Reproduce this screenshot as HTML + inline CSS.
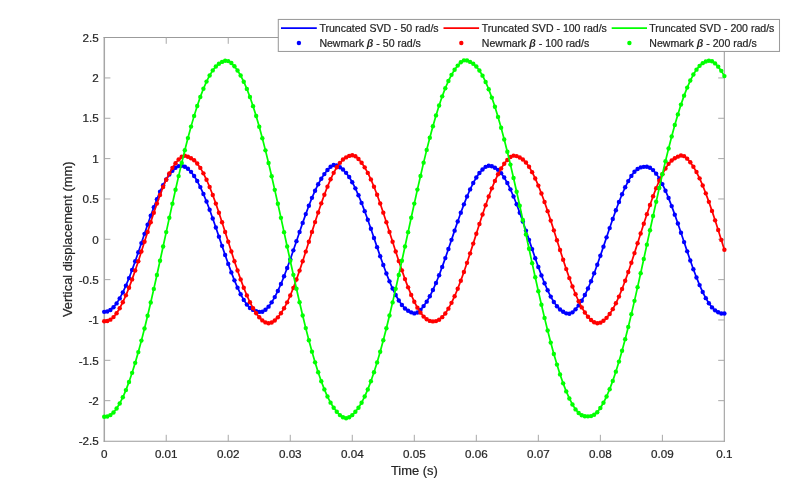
<!DOCTYPE html>
<html><head><meta charset="utf-8"><title>Vertical displacement</title>
<style>
html,body{margin:0;padding:0;background:#fff;}
body{width:800px;height:495px;overflow:hidden;}
svg{display:block;}
text{font-family:"Liberation Sans",sans-serif;fill:#262626;stroke:#262626;stroke-width:0.22px;}
.tk{font-size:11.67px;}
.lb{font-size:12.92px;}
.lg{font-size:10.55px;}
</style></head><body>
<svg width="800" height="495" viewBox="0 0 800 495">
<rect width="800" height="495" fill="#ffffff"/>

<g fill="none" stroke-linecap="butt">
<line x1="104.3" y1="37.1" x2="104.3" y2="441.8" stroke="#a6a6a6" stroke-width="1.5"/>
<line x1="103.60000000000001" y1="37.55" x2="724.8" y2="37.55" stroke="#9b9b9b" stroke-width="1.05"/>
<line x1="724.3" y1="37.1" x2="724.3" y2="441.8" stroke="#9b9b9b" stroke-width="1.05"/>
<line x1="103.60000000000001" y1="441.3" x2="724.8" y2="441.3" stroke="#9b9b9b" stroke-width="1.05"/>
</g>
<g stroke="#a8a8a8" stroke-width="1" fill="none">
<line x1="166.22" y1="441.3" x2="166.22" y2="434.8"/>
<line x1="166.22" y1="37.6" x2="166.22" y2="43.800000000000004"/>
<line x1="228.24" y1="441.3" x2="228.24" y2="434.8"/>
<line x1="228.24" y1="37.6" x2="228.24" y2="43.800000000000004"/>
<line x1="290.26" y1="441.3" x2="290.26" y2="434.8"/>
<line x1="290.26" y1="37.6" x2="290.26" y2="43.800000000000004"/>
<line x1="352.28" y1="441.3" x2="352.28" y2="434.8"/>
<line x1="352.28" y1="37.6" x2="352.28" y2="43.800000000000004"/>
<line x1="414.30" y1="441.3" x2="414.30" y2="434.8"/>
<line x1="414.30" y1="37.6" x2="414.30" y2="43.800000000000004"/>
<line x1="476.32" y1="441.3" x2="476.32" y2="434.8"/>
<line x1="476.32" y1="37.6" x2="476.32" y2="43.800000000000004"/>
<line x1="538.34" y1="441.3" x2="538.34" y2="434.8"/>
<line x1="538.34" y1="37.6" x2="538.34" y2="43.800000000000004"/>
<line x1="600.36" y1="441.3" x2="600.36" y2="434.8"/>
<line x1="600.36" y1="37.6" x2="600.36" y2="43.800000000000004"/>
<line x1="662.38" y1="441.3" x2="662.38" y2="434.8"/>
<line x1="662.38" y1="37.6" x2="662.38" y2="43.800000000000004"/>
<line x1="104.2" y1="400.66" x2="110.4" y2="400.66"/>
<line x1="724.4" y1="400.66" x2="718.1999999999999" y2="400.66"/>
<line x1="104.2" y1="360.32" x2="110.4" y2="360.32"/>
<line x1="724.4" y1="360.32" x2="718.1999999999999" y2="360.32"/>
<line x1="104.2" y1="319.98" x2="110.4" y2="319.98"/>
<line x1="724.4" y1="319.98" x2="718.1999999999999" y2="319.98"/>
<line x1="104.2" y1="279.64" x2="110.4" y2="279.64"/>
<line x1="724.4" y1="279.64" x2="718.1999999999999" y2="279.64"/>
<line x1="104.2" y1="239.30" x2="110.4" y2="239.30"/>
<line x1="724.4" y1="239.30" x2="718.1999999999999" y2="239.30"/>
<line x1="104.2" y1="198.96" x2="110.4" y2="198.96"/>
<line x1="724.4" y1="198.96" x2="718.1999999999999" y2="198.96"/>
<line x1="104.2" y1="158.62" x2="110.4" y2="158.62"/>
<line x1="724.4" y1="158.62" x2="718.1999999999999" y2="158.62"/>
<line x1="104.2" y1="118.28" x2="110.4" y2="118.28"/>
<line x1="724.4" y1="118.28" x2="718.1999999999999" y2="118.28"/>
<line x1="104.2" y1="77.94" x2="110.4" y2="77.94"/>
<line x1="724.4" y1="77.94" x2="718.1999999999999" y2="77.94"/>
</g>
<g class="tk" text-anchor="middle">
<text x="104.20" y="458.2">0</text>
<text x="166.22" y="458.2">0.01</text>
<text x="228.24" y="458.2">0.02</text>
<text x="290.26" y="458.2">0.03</text>
<text x="352.28" y="458.2">0.04</text>
<text x="414.30" y="458.2">0.05</text>
<text x="476.32" y="458.2">0.06</text>
<text x="538.34" y="458.2">0.07</text>
<text x="600.36" y="458.2">0.08</text>
<text x="662.38" y="458.2">0.09</text>
<text x="724.40" y="458.2">0.1</text>
</g>
<g class="tk" text-anchor="end">
<text x="98.8" y="445.20">-2.5</text>
<text x="98.8" y="404.86">-2</text>
<text x="98.8" y="364.52">-1.5</text>
<text x="98.8" y="324.18">-1</text>
<text x="98.8" y="283.84">-0.5</text>
<text x="98.8" y="243.50">0</text>
<text x="98.8" y="203.16">0.5</text>
<text x="98.8" y="162.82">1</text>
<text x="98.8" y="122.48">1.5</text>
<text x="98.8" y="82.14">2</text>
<text x="98.8" y="41.80">2.5</text>
</g>
<text class="lb" text-anchor="middle" x="414.30" y="475.4">Time (s)</text>
<text class="lb" text-anchor="middle" transform="translate(71.9,239.30) rotate(-90)">Vertical displacement (mm)</text>
<clipPath id="c"><rect x="101.2" y="34.6" width="626.20" height="409.40"/></clipPath>
<g clip-path="url(#c)">
<polyline points="104.20,311.83 107.30,311.48 110.40,309.97 113.50,307.32 116.60,303.39 119.70,298.38 122.81,292.43 125.91,285.63 129.01,278.08 132.11,269.92 135.21,261.27 138.31,252.27 141.41,243.08 144.51,233.83 147.61,224.67 150.72,215.76 153.82,207.22 156.92,199.20 160.02,191.81 163.12,185.18 166.22,179.41 169.32,174.58 172.42,170.71 175.52,167.81 178.62,166.12 181.72,165.78 184.83,166.78 187.93,168.77 191.03,171.85 194.13,175.94 197.23,181.05 200.33,187.09 203.43,193.96 206.53,201.56 209.63,209.76 212.74,218.43 215.84,227.44 218.94,236.63 222.04,245.87 225.14,255.00 228.24,263.88 231.34,272.38 234.44,280.35 237.54,287.67 240.64,294.22 243.74,299.90 246.85,304.59 249.95,307.95 253.05,309.92 256.15,311.11 259.25,311.90 262.35,311.72 265.45,309.77 268.55,306.65 271.65,302.34 274.75,297.09 277.86,290.94 280.96,283.98 284.06,276.30 287.16,268.05 290.26,259.35 293.36,250.33 296.46,241.16 299.56,231.96 302.66,222.90 305.76,214.10 308.87,205.72 311.97,197.87 315.07,190.68 318.17,184.26 321.27,178.72 324.37,174.09 327.47,170.07 330.57,166.80 333.67,165.06 336.77,165.38 339.88,167.18 342.98,169.50 346.08,172.87 349.18,177.03 352.28,182.23 355.38,188.36 358.48,195.29 361.58,202.92 364.68,211.14 367.78,219.80 370.89,228.79 373.99,237.95 377.09,247.14 380.19,256.22 383.29,265.04 386.39,273.46 389.49,281.35 392.59,288.56 395.69,295.00 398.79,300.55 401.90,305.07 405.00,308.47 408.10,310.70 411.20,312.36 414.30,313.40 417.40,312.55 420.50,309.84 423.60,306.08 426.70,301.63 429.80,296.27 432.91,290.01 436.01,282.95 439.11,275.20 442.21,266.88 445.31,258.12 448.41,249.07 451.51,239.85 454.61,230.63 457.71,221.54 460.81,212.73 463.92,204.35 467.02,196.52 470.12,189.38 473.22,183.03 476.32,177.57 479.42,173.06 482.52,169.44 485.62,166.85 488.72,165.80 491.82,166.32 494.93,167.71 498.03,169.86 501.13,173.15 504.23,177.56 507.33,183.00 510.43,189.34 513.53,196.48 516.63,204.30 519.73,212.68 522.83,221.50 525.94,230.60 529.04,239.85 532.14,249.11 535.24,258.21 538.34,267.02 541.44,275.40 544.54,283.20 547.64,290.31 550.74,296.61 553.84,301.98 556.95,306.28 560.05,309.55 563.15,311.73 566.25,313.33 569.35,313.81 572.45,312.36 575.55,309.33 578.65,305.39 581.75,300.70 584.85,295.07 587.96,288.55 591.06,281.24 594.16,273.27 597.26,264.74 600.36,255.82 603.46,246.63 606.56,237.34 609.66,228.08 612.76,219.00 615.87,210.25 618.97,201.96 622.07,194.26 625.17,187.28 628.27,181.12 631.37,175.89 634.47,171.68 637.57,168.98 640.67,167.41 643.77,166.83 646.88,166.76 649.98,167.80 653.08,170.08 656.18,173.63 659.28,178.39 662.38,184.10 665.48,190.70 668.58,198.06 671.68,206.08 674.78,214.63 677.88,223.57 680.99,232.77 684.09,242.08 687.19,251.35 690.29,260.43 693.39,269.18 696.49,277.45 699.59,285.12 702.69,292.06 705.79,298.16 708.89,303.30 712.00,307.38 715.10,310.34 718.20,312.25 721.30,313.50 724.40,313.46" fill="none" stroke="#0000ff" stroke-width="1.75" stroke-linejoin="round"/>
<g fill="#0000ff">
<circle cx="104.20" cy="311.83" r="2.2"/>
<circle cx="107.30" cy="311.48" r="2.2"/>
<circle cx="110.40" cy="309.97" r="2.2"/>
<circle cx="113.50" cy="307.32" r="2.2"/>
<circle cx="116.60" cy="303.39" r="2.2"/>
<circle cx="119.70" cy="298.38" r="2.2"/>
<circle cx="122.81" cy="292.43" r="2.2"/>
<circle cx="125.91" cy="285.63" r="2.2"/>
<circle cx="129.01" cy="278.08" r="2.2"/>
<circle cx="132.11" cy="269.92" r="2.2"/>
<circle cx="135.21" cy="261.27" r="2.2"/>
<circle cx="138.31" cy="252.27" r="2.2"/>
<circle cx="141.41" cy="243.08" r="2.2"/>
<circle cx="144.51" cy="233.83" r="2.2"/>
<circle cx="147.61" cy="224.67" r="2.2"/>
<circle cx="150.72" cy="215.76" r="2.2"/>
<circle cx="153.82" cy="207.22" r="2.2"/>
<circle cx="156.92" cy="199.20" r="2.2"/>
<circle cx="160.02" cy="191.81" r="2.2"/>
<circle cx="163.12" cy="185.18" r="2.2"/>
<circle cx="166.22" cy="179.41" r="2.2"/>
<circle cx="169.32" cy="174.58" r="2.2"/>
<circle cx="172.42" cy="170.71" r="2.2"/>
<circle cx="175.52" cy="167.81" r="2.2"/>
<circle cx="178.62" cy="166.12" r="2.2"/>
<circle cx="181.72" cy="165.78" r="2.2"/>
<circle cx="184.83" cy="166.78" r="2.2"/>
<circle cx="187.93" cy="168.77" r="2.2"/>
<circle cx="191.03" cy="171.85" r="2.2"/>
<circle cx="194.13" cy="175.94" r="2.2"/>
<circle cx="197.23" cy="181.05" r="2.2"/>
<circle cx="200.33" cy="187.09" r="2.2"/>
<circle cx="203.43" cy="193.96" r="2.2"/>
<circle cx="206.53" cy="201.56" r="2.2"/>
<circle cx="209.63" cy="209.76" r="2.2"/>
<circle cx="212.74" cy="218.43" r="2.2"/>
<circle cx="215.84" cy="227.44" r="2.2"/>
<circle cx="218.94" cy="236.63" r="2.2"/>
<circle cx="222.04" cy="245.87" r="2.2"/>
<circle cx="225.14" cy="255.00" r="2.2"/>
<circle cx="228.24" cy="263.88" r="2.2"/>
<circle cx="231.34" cy="272.38" r="2.2"/>
<circle cx="234.44" cy="280.35" r="2.2"/>
<circle cx="237.54" cy="287.67" r="2.2"/>
<circle cx="240.64" cy="294.22" r="2.2"/>
<circle cx="243.74" cy="299.90" r="2.2"/>
<circle cx="246.85" cy="304.59" r="2.2"/>
<circle cx="249.95" cy="307.95" r="2.2"/>
<circle cx="253.05" cy="309.92" r="2.2"/>
<circle cx="256.15" cy="311.11" r="2.2"/>
<circle cx="259.25" cy="311.90" r="2.2"/>
<circle cx="262.35" cy="311.72" r="2.2"/>
<circle cx="265.45" cy="309.77" r="2.2"/>
<circle cx="268.55" cy="306.65" r="2.2"/>
<circle cx="271.65" cy="302.34" r="2.2"/>
<circle cx="274.75" cy="297.09" r="2.2"/>
<circle cx="277.86" cy="290.94" r="2.2"/>
<circle cx="280.96" cy="283.98" r="2.2"/>
<circle cx="284.06" cy="276.30" r="2.2"/>
<circle cx="287.16" cy="268.05" r="2.2"/>
<circle cx="290.26" cy="259.35" r="2.2"/>
<circle cx="293.36" cy="250.33" r="2.2"/>
<circle cx="296.46" cy="241.16" r="2.2"/>
<circle cx="299.56" cy="231.96" r="2.2"/>
<circle cx="302.66" cy="222.90" r="2.2"/>
<circle cx="305.76" cy="214.10" r="2.2"/>
<circle cx="308.87" cy="205.72" r="2.2"/>
<circle cx="311.97" cy="197.87" r="2.2"/>
<circle cx="315.07" cy="190.68" r="2.2"/>
<circle cx="318.17" cy="184.26" r="2.2"/>
<circle cx="321.27" cy="178.72" r="2.2"/>
<circle cx="324.37" cy="174.09" r="2.2"/>
<circle cx="327.47" cy="170.07" r="2.2"/>
<circle cx="330.57" cy="166.80" r="2.2"/>
<circle cx="333.67" cy="165.06" r="2.2"/>
<circle cx="336.77" cy="165.38" r="2.2"/>
<circle cx="339.88" cy="167.18" r="2.2"/>
<circle cx="342.98" cy="169.50" r="2.2"/>
<circle cx="346.08" cy="172.87" r="2.2"/>
<circle cx="349.18" cy="177.03" r="2.2"/>
<circle cx="352.28" cy="182.23" r="2.2"/>
<circle cx="355.38" cy="188.36" r="2.2"/>
<circle cx="358.48" cy="195.29" r="2.2"/>
<circle cx="361.58" cy="202.92" r="2.2"/>
<circle cx="364.68" cy="211.14" r="2.2"/>
<circle cx="367.78" cy="219.80" r="2.2"/>
<circle cx="370.89" cy="228.79" r="2.2"/>
<circle cx="373.99" cy="237.95" r="2.2"/>
<circle cx="377.09" cy="247.14" r="2.2"/>
<circle cx="380.19" cy="256.22" r="2.2"/>
<circle cx="383.29" cy="265.04" r="2.2"/>
<circle cx="386.39" cy="273.46" r="2.2"/>
<circle cx="389.49" cy="281.35" r="2.2"/>
<circle cx="392.59" cy="288.56" r="2.2"/>
<circle cx="395.69" cy="295.00" r="2.2"/>
<circle cx="398.79" cy="300.55" r="2.2"/>
<circle cx="401.90" cy="305.07" r="2.2"/>
<circle cx="405.00" cy="308.47" r="2.2"/>
<circle cx="408.10" cy="310.70" r="2.2"/>
<circle cx="411.20" cy="312.36" r="2.2"/>
<circle cx="414.30" cy="313.40" r="2.2"/>
<circle cx="417.40" cy="312.55" r="2.2"/>
<circle cx="420.50" cy="309.84" r="2.2"/>
<circle cx="423.60" cy="306.08" r="2.2"/>
<circle cx="426.70" cy="301.63" r="2.2"/>
<circle cx="429.80" cy="296.27" r="2.2"/>
<circle cx="432.91" cy="290.01" r="2.2"/>
<circle cx="436.01" cy="282.95" r="2.2"/>
<circle cx="439.11" cy="275.20" r="2.2"/>
<circle cx="442.21" cy="266.88" r="2.2"/>
<circle cx="445.31" cy="258.12" r="2.2"/>
<circle cx="448.41" cy="249.07" r="2.2"/>
<circle cx="451.51" cy="239.85" r="2.2"/>
<circle cx="454.61" cy="230.63" r="2.2"/>
<circle cx="457.71" cy="221.54" r="2.2"/>
<circle cx="460.81" cy="212.73" r="2.2"/>
<circle cx="463.92" cy="204.35" r="2.2"/>
<circle cx="467.02" cy="196.52" r="2.2"/>
<circle cx="470.12" cy="189.38" r="2.2"/>
<circle cx="473.22" cy="183.03" r="2.2"/>
<circle cx="476.32" cy="177.57" r="2.2"/>
<circle cx="479.42" cy="173.06" r="2.2"/>
<circle cx="482.52" cy="169.44" r="2.2"/>
<circle cx="485.62" cy="166.85" r="2.2"/>
<circle cx="488.72" cy="165.80" r="2.2"/>
<circle cx="491.82" cy="166.32" r="2.2"/>
<circle cx="494.93" cy="167.71" r="2.2"/>
<circle cx="498.03" cy="169.86" r="2.2"/>
<circle cx="501.13" cy="173.15" r="2.2"/>
<circle cx="504.23" cy="177.56" r="2.2"/>
<circle cx="507.33" cy="183.00" r="2.2"/>
<circle cx="510.43" cy="189.34" r="2.2"/>
<circle cx="513.53" cy="196.48" r="2.2"/>
<circle cx="516.63" cy="204.30" r="2.2"/>
<circle cx="519.73" cy="212.68" r="2.2"/>
<circle cx="522.83" cy="221.50" r="2.2"/>
<circle cx="525.94" cy="230.60" r="2.2"/>
<circle cx="529.04" cy="239.85" r="2.2"/>
<circle cx="532.14" cy="249.11" r="2.2"/>
<circle cx="535.24" cy="258.21" r="2.2"/>
<circle cx="538.34" cy="267.02" r="2.2"/>
<circle cx="541.44" cy="275.40" r="2.2"/>
<circle cx="544.54" cy="283.20" r="2.2"/>
<circle cx="547.64" cy="290.31" r="2.2"/>
<circle cx="550.74" cy="296.61" r="2.2"/>
<circle cx="553.84" cy="301.98" r="2.2"/>
<circle cx="556.95" cy="306.28" r="2.2"/>
<circle cx="560.05" cy="309.55" r="2.2"/>
<circle cx="563.15" cy="311.73" r="2.2"/>
<circle cx="566.25" cy="313.33" r="2.2"/>
<circle cx="569.35" cy="313.81" r="2.2"/>
<circle cx="572.45" cy="312.36" r="2.2"/>
<circle cx="575.55" cy="309.33" r="2.2"/>
<circle cx="578.65" cy="305.39" r="2.2"/>
<circle cx="581.75" cy="300.70" r="2.2"/>
<circle cx="584.85" cy="295.07" r="2.2"/>
<circle cx="587.96" cy="288.55" r="2.2"/>
<circle cx="591.06" cy="281.24" r="2.2"/>
<circle cx="594.16" cy="273.27" r="2.2"/>
<circle cx="597.26" cy="264.74" r="2.2"/>
<circle cx="600.36" cy="255.82" r="2.2"/>
<circle cx="603.46" cy="246.63" r="2.2"/>
<circle cx="606.56" cy="237.34" r="2.2"/>
<circle cx="609.66" cy="228.08" r="2.2"/>
<circle cx="612.76" cy="219.00" r="2.2"/>
<circle cx="615.87" cy="210.25" r="2.2"/>
<circle cx="618.97" cy="201.96" r="2.2"/>
<circle cx="622.07" cy="194.26" r="2.2"/>
<circle cx="625.17" cy="187.28" r="2.2"/>
<circle cx="628.27" cy="181.12" r="2.2"/>
<circle cx="631.37" cy="175.89" r="2.2"/>
<circle cx="634.47" cy="171.68" r="2.2"/>
<circle cx="637.57" cy="168.98" r="2.2"/>
<circle cx="640.67" cy="167.41" r="2.2"/>
<circle cx="643.77" cy="166.83" r="2.2"/>
<circle cx="646.88" cy="166.76" r="2.2"/>
<circle cx="649.98" cy="167.80" r="2.2"/>
<circle cx="653.08" cy="170.08" r="2.2"/>
<circle cx="656.18" cy="173.63" r="2.2"/>
<circle cx="659.28" cy="178.39" r="2.2"/>
<circle cx="662.38" cy="184.10" r="2.2"/>
<circle cx="665.48" cy="190.70" r="2.2"/>
<circle cx="668.58" cy="198.06" r="2.2"/>
<circle cx="671.68" cy="206.08" r="2.2"/>
<circle cx="674.78" cy="214.63" r="2.2"/>
<circle cx="677.88" cy="223.57" r="2.2"/>
<circle cx="680.99" cy="232.77" r="2.2"/>
<circle cx="684.09" cy="242.08" r="2.2"/>
<circle cx="687.19" cy="251.35" r="2.2"/>
<circle cx="690.29" cy="260.43" r="2.2"/>
<circle cx="693.39" cy="269.18" r="2.2"/>
<circle cx="696.49" cy="277.45" r="2.2"/>
<circle cx="699.59" cy="285.12" r="2.2"/>
<circle cx="702.69" cy="292.06" r="2.2"/>
<circle cx="705.79" cy="298.16" r="2.2"/>
<circle cx="708.89" cy="303.30" r="2.2"/>
<circle cx="712.00" cy="307.38" r="2.2"/>
<circle cx="715.10" cy="310.34" r="2.2"/>
<circle cx="718.20" cy="312.25" r="2.2"/>
<circle cx="721.30" cy="313.50" r="2.2"/>
<circle cx="724.40" cy="313.46" r="2.2"/>
</g>
<polyline points="104.20,321.25 107.30,321.02 110.40,319.64 113.50,317.12 116.60,313.22 119.70,308.21 122.81,302.23 125.91,295.36 129.01,287.71 132.11,279.39 135.21,270.50 138.31,261.18 141.41,251.55 144.51,241.76 147.61,231.93 150.72,222.20 153.82,212.72 156.92,203.61 160.02,195.00 163.12,187.02 166.22,179.77 169.32,173.35 172.42,167.86 175.52,163.30 178.62,159.53 181.72,156.77 184.83,155.80 187.93,156.68 191.03,158.21 194.13,160.25 197.23,163.47 200.33,167.88 203.43,173.36 206.53,179.77 209.63,187.02 212.74,195.01 215.84,203.62 218.94,212.73 222.04,222.21 225.14,231.94 228.24,241.77 231.34,251.57 234.44,261.19 237.54,270.52 240.64,279.40 243.74,287.73 246.85,295.38 249.95,302.24 253.05,308.22 256.15,313.24 259.25,317.27 262.35,320.41 265.45,322.41 268.55,323.25 271.65,322.43 274.75,320.45 277.86,317.34 280.96,313.32 284.06,308.32 287.16,302.36 290.26,295.50 293.36,287.85 296.46,279.52 299.56,270.61 302.66,261.27 305.76,251.60 308.87,241.76 311.97,231.88 315.07,222.09 318.17,212.55 321.27,203.37 324.37,194.69 327.47,186.64 330.57,179.32 333.67,172.84 336.77,167.30 339.88,162.83 342.98,159.53 346.08,157.39 349.18,155.90 352.28,155.19 355.38,156.24 358.48,158.97 361.58,162.73 364.68,167.34 367.78,172.90 370.89,179.40 373.99,186.73 377.09,194.79 380.19,203.48 383.29,212.66 386.39,222.20 389.49,231.95 392.59,241.77 395.69,251.53 398.79,261.09 401.90,270.33 405.00,279.12 408.10,287.35 411.20,294.92 414.30,301.72 417.40,307.65 420.50,312.63 423.60,316.58 426.70,319.31 429.80,320.92 432.91,321.41 436.01,321.10 439.11,319.69 442.21,317.17 445.31,313.45 448.41,308.64 451.51,302.87 454.61,296.22 457.71,288.79 460.81,280.68 463.92,271.99 467.02,262.83 470.12,253.34 473.22,243.62 476.32,233.82 479.42,224.06 482.52,214.50 485.62,205.27 488.72,196.51 491.82,188.34 494.93,180.90 498.03,174.28 501.13,168.57 504.23,163.82 507.33,159.94 510.43,157.00 513.53,155.63 516.63,156.08 519.73,157.49 522.83,159.46 525.94,162.54 529.04,166.80 532.14,172.14 535.24,178.44 538.34,185.60 541.44,193.51 544.54,202.06 547.64,211.14 550.74,220.62 553.84,230.35 556.95,240.20 560.05,250.04 563.15,259.72 566.25,269.11 569.35,278.08 572.45,286.51 575.55,294.27 578.65,301.27 581.75,307.39 584.85,312.55 587.96,316.71 591.06,320.01 594.16,322.18 597.26,323.19 600.36,322.63 603.46,320.82 606.56,317.87 609.66,313.98 612.76,309.13 615.87,303.30 618.97,296.58 622.07,289.04 625.17,280.81 628.27,272.00 631.37,262.72 634.47,253.12 637.57,243.32 640.67,233.47 643.77,223.70 646.88,214.15 649.98,204.96 653.08,196.24 656.18,188.13 659.28,180.73 662.38,174.15 665.48,168.49 668.58,163.87 671.68,160.43 674.78,158.22 677.88,156.63 680.99,155.54 684.09,156.16 687.19,158.67 690.29,162.31 693.39,166.72 696.49,172.07 699.59,178.34 702.69,185.46 705.79,193.34 708.89,201.86 712.00,210.90 715.10,220.35 718.20,230.05 721.30,239.89 724.40,249.73" fill="none" stroke="#ff0000" stroke-width="1.75" stroke-linejoin="round"/>
<g fill="#ff0000">
<circle cx="104.20" cy="321.25" r="2.2"/>
<circle cx="107.30" cy="321.02" r="2.2"/>
<circle cx="110.40" cy="319.64" r="2.2"/>
<circle cx="113.50" cy="317.12" r="2.2"/>
<circle cx="116.60" cy="313.22" r="2.2"/>
<circle cx="119.70" cy="308.21" r="2.2"/>
<circle cx="122.81" cy="302.23" r="2.2"/>
<circle cx="125.91" cy="295.36" r="2.2"/>
<circle cx="129.01" cy="287.71" r="2.2"/>
<circle cx="132.11" cy="279.39" r="2.2"/>
<circle cx="135.21" cy="270.50" r="2.2"/>
<circle cx="138.31" cy="261.18" r="2.2"/>
<circle cx="141.41" cy="251.55" r="2.2"/>
<circle cx="144.51" cy="241.76" r="2.2"/>
<circle cx="147.61" cy="231.93" r="2.2"/>
<circle cx="150.72" cy="222.20" r="2.2"/>
<circle cx="153.82" cy="212.72" r="2.2"/>
<circle cx="156.92" cy="203.61" r="2.2"/>
<circle cx="160.02" cy="195.00" r="2.2"/>
<circle cx="163.12" cy="187.02" r="2.2"/>
<circle cx="166.22" cy="179.77" r="2.2"/>
<circle cx="169.32" cy="173.35" r="2.2"/>
<circle cx="172.42" cy="167.86" r="2.2"/>
<circle cx="175.52" cy="163.30" r="2.2"/>
<circle cx="178.62" cy="159.53" r="2.2"/>
<circle cx="181.72" cy="156.77" r="2.2"/>
<circle cx="184.83" cy="155.80" r="2.2"/>
<circle cx="187.93" cy="156.68" r="2.2"/>
<circle cx="191.03" cy="158.21" r="2.2"/>
<circle cx="194.13" cy="160.25" r="2.2"/>
<circle cx="197.23" cy="163.47" r="2.2"/>
<circle cx="200.33" cy="167.88" r="2.2"/>
<circle cx="203.43" cy="173.36" r="2.2"/>
<circle cx="206.53" cy="179.77" r="2.2"/>
<circle cx="209.63" cy="187.02" r="2.2"/>
<circle cx="212.74" cy="195.01" r="2.2"/>
<circle cx="215.84" cy="203.62" r="2.2"/>
<circle cx="218.94" cy="212.73" r="2.2"/>
<circle cx="222.04" cy="222.21" r="2.2"/>
<circle cx="225.14" cy="231.94" r="2.2"/>
<circle cx="228.24" cy="241.77" r="2.2"/>
<circle cx="231.34" cy="251.57" r="2.2"/>
<circle cx="234.44" cy="261.19" r="2.2"/>
<circle cx="237.54" cy="270.52" r="2.2"/>
<circle cx="240.64" cy="279.40" r="2.2"/>
<circle cx="243.74" cy="287.73" r="2.2"/>
<circle cx="246.85" cy="295.38" r="2.2"/>
<circle cx="249.95" cy="302.24" r="2.2"/>
<circle cx="253.05" cy="308.22" r="2.2"/>
<circle cx="256.15" cy="313.24" r="2.2"/>
<circle cx="259.25" cy="317.27" r="2.2"/>
<circle cx="262.35" cy="320.41" r="2.2"/>
<circle cx="265.45" cy="322.41" r="2.2"/>
<circle cx="268.55" cy="323.25" r="2.2"/>
<circle cx="271.65" cy="322.43" r="2.2"/>
<circle cx="274.75" cy="320.45" r="2.2"/>
<circle cx="277.86" cy="317.34" r="2.2"/>
<circle cx="280.96" cy="313.32" r="2.2"/>
<circle cx="284.06" cy="308.32" r="2.2"/>
<circle cx="287.16" cy="302.36" r="2.2"/>
<circle cx="290.26" cy="295.50" r="2.2"/>
<circle cx="293.36" cy="287.85" r="2.2"/>
<circle cx="296.46" cy="279.52" r="2.2"/>
<circle cx="299.56" cy="270.61" r="2.2"/>
<circle cx="302.66" cy="261.27" r="2.2"/>
<circle cx="305.76" cy="251.60" r="2.2"/>
<circle cx="308.87" cy="241.76" r="2.2"/>
<circle cx="311.97" cy="231.88" r="2.2"/>
<circle cx="315.07" cy="222.09" r="2.2"/>
<circle cx="318.17" cy="212.55" r="2.2"/>
<circle cx="321.27" cy="203.37" r="2.2"/>
<circle cx="324.37" cy="194.69" r="2.2"/>
<circle cx="327.47" cy="186.64" r="2.2"/>
<circle cx="330.57" cy="179.32" r="2.2"/>
<circle cx="333.67" cy="172.84" r="2.2"/>
<circle cx="336.77" cy="167.30" r="2.2"/>
<circle cx="339.88" cy="162.83" r="2.2"/>
<circle cx="342.98" cy="159.53" r="2.2"/>
<circle cx="346.08" cy="157.39" r="2.2"/>
<circle cx="349.18" cy="155.90" r="2.2"/>
<circle cx="352.28" cy="155.19" r="2.2"/>
<circle cx="355.38" cy="156.24" r="2.2"/>
<circle cx="358.48" cy="158.97" r="2.2"/>
<circle cx="361.58" cy="162.73" r="2.2"/>
<circle cx="364.68" cy="167.34" r="2.2"/>
<circle cx="367.78" cy="172.90" r="2.2"/>
<circle cx="370.89" cy="179.40" r="2.2"/>
<circle cx="373.99" cy="186.73" r="2.2"/>
<circle cx="377.09" cy="194.79" r="2.2"/>
<circle cx="380.19" cy="203.48" r="2.2"/>
<circle cx="383.29" cy="212.66" r="2.2"/>
<circle cx="386.39" cy="222.20" r="2.2"/>
<circle cx="389.49" cy="231.95" r="2.2"/>
<circle cx="392.59" cy="241.77" r="2.2"/>
<circle cx="395.69" cy="251.53" r="2.2"/>
<circle cx="398.79" cy="261.09" r="2.2"/>
<circle cx="401.90" cy="270.33" r="2.2"/>
<circle cx="405.00" cy="279.12" r="2.2"/>
<circle cx="408.10" cy="287.35" r="2.2"/>
<circle cx="411.20" cy="294.92" r="2.2"/>
<circle cx="414.30" cy="301.72" r="2.2"/>
<circle cx="417.40" cy="307.65" r="2.2"/>
<circle cx="420.50" cy="312.63" r="2.2"/>
<circle cx="423.60" cy="316.58" r="2.2"/>
<circle cx="426.70" cy="319.31" r="2.2"/>
<circle cx="429.80" cy="320.92" r="2.2"/>
<circle cx="432.91" cy="321.41" r="2.2"/>
<circle cx="436.01" cy="321.10" r="2.2"/>
<circle cx="439.11" cy="319.69" r="2.2"/>
<circle cx="442.21" cy="317.17" r="2.2"/>
<circle cx="445.31" cy="313.45" r="2.2"/>
<circle cx="448.41" cy="308.64" r="2.2"/>
<circle cx="451.51" cy="302.87" r="2.2"/>
<circle cx="454.61" cy="296.22" r="2.2"/>
<circle cx="457.71" cy="288.79" r="2.2"/>
<circle cx="460.81" cy="280.68" r="2.2"/>
<circle cx="463.92" cy="271.99" r="2.2"/>
<circle cx="467.02" cy="262.83" r="2.2"/>
<circle cx="470.12" cy="253.34" r="2.2"/>
<circle cx="473.22" cy="243.62" r="2.2"/>
<circle cx="476.32" cy="233.82" r="2.2"/>
<circle cx="479.42" cy="224.06" r="2.2"/>
<circle cx="482.52" cy="214.50" r="2.2"/>
<circle cx="485.62" cy="205.27" r="2.2"/>
<circle cx="488.72" cy="196.51" r="2.2"/>
<circle cx="491.82" cy="188.34" r="2.2"/>
<circle cx="494.93" cy="180.90" r="2.2"/>
<circle cx="498.03" cy="174.28" r="2.2"/>
<circle cx="501.13" cy="168.57" r="2.2"/>
<circle cx="504.23" cy="163.82" r="2.2"/>
<circle cx="507.33" cy="159.94" r="2.2"/>
<circle cx="510.43" cy="157.00" r="2.2"/>
<circle cx="513.53" cy="155.63" r="2.2"/>
<circle cx="516.63" cy="156.08" r="2.2"/>
<circle cx="519.73" cy="157.49" r="2.2"/>
<circle cx="522.83" cy="159.46" r="2.2"/>
<circle cx="525.94" cy="162.54" r="2.2"/>
<circle cx="529.04" cy="166.80" r="2.2"/>
<circle cx="532.14" cy="172.14" r="2.2"/>
<circle cx="535.24" cy="178.44" r="2.2"/>
<circle cx="538.34" cy="185.60" r="2.2"/>
<circle cx="541.44" cy="193.51" r="2.2"/>
<circle cx="544.54" cy="202.06" r="2.2"/>
<circle cx="547.64" cy="211.14" r="2.2"/>
<circle cx="550.74" cy="220.62" r="2.2"/>
<circle cx="553.84" cy="230.35" r="2.2"/>
<circle cx="556.95" cy="240.20" r="2.2"/>
<circle cx="560.05" cy="250.04" r="2.2"/>
<circle cx="563.15" cy="259.72" r="2.2"/>
<circle cx="566.25" cy="269.11" r="2.2"/>
<circle cx="569.35" cy="278.08" r="2.2"/>
<circle cx="572.45" cy="286.51" r="2.2"/>
<circle cx="575.55" cy="294.27" r="2.2"/>
<circle cx="578.65" cy="301.27" r="2.2"/>
<circle cx="581.75" cy="307.39" r="2.2"/>
<circle cx="584.85" cy="312.55" r="2.2"/>
<circle cx="587.96" cy="316.71" r="2.2"/>
<circle cx="591.06" cy="320.01" r="2.2"/>
<circle cx="594.16" cy="322.18" r="2.2"/>
<circle cx="597.26" cy="323.19" r="2.2"/>
<circle cx="600.36" cy="322.63" r="2.2"/>
<circle cx="603.46" cy="320.82" r="2.2"/>
<circle cx="606.56" cy="317.87" r="2.2"/>
<circle cx="609.66" cy="313.98" r="2.2"/>
<circle cx="612.76" cy="309.13" r="2.2"/>
<circle cx="615.87" cy="303.30" r="2.2"/>
<circle cx="618.97" cy="296.58" r="2.2"/>
<circle cx="622.07" cy="289.04" r="2.2"/>
<circle cx="625.17" cy="280.81" r="2.2"/>
<circle cx="628.27" cy="272.00" r="2.2"/>
<circle cx="631.37" cy="262.72" r="2.2"/>
<circle cx="634.47" cy="253.12" r="2.2"/>
<circle cx="637.57" cy="243.32" r="2.2"/>
<circle cx="640.67" cy="233.47" r="2.2"/>
<circle cx="643.77" cy="223.70" r="2.2"/>
<circle cx="646.88" cy="214.15" r="2.2"/>
<circle cx="649.98" cy="204.96" r="2.2"/>
<circle cx="653.08" cy="196.24" r="2.2"/>
<circle cx="656.18" cy="188.13" r="2.2"/>
<circle cx="659.28" cy="180.73" r="2.2"/>
<circle cx="662.38" cy="174.15" r="2.2"/>
<circle cx="665.48" cy="168.49" r="2.2"/>
<circle cx="668.58" cy="163.87" r="2.2"/>
<circle cx="671.68" cy="160.43" r="2.2"/>
<circle cx="674.78" cy="158.22" r="2.2"/>
<circle cx="677.88" cy="156.63" r="2.2"/>
<circle cx="680.99" cy="155.54" r="2.2"/>
<circle cx="684.09" cy="156.16" r="2.2"/>
<circle cx="687.19" cy="158.67" r="2.2"/>
<circle cx="690.29" cy="162.31" r="2.2"/>
<circle cx="693.39" cy="166.72" r="2.2"/>
<circle cx="696.49" cy="172.07" r="2.2"/>
<circle cx="699.59" cy="178.34" r="2.2"/>
<circle cx="702.69" cy="185.46" r="2.2"/>
<circle cx="705.79" cy="193.34" r="2.2"/>
<circle cx="708.89" cy="201.86" r="2.2"/>
<circle cx="712.00" cy="210.90" r="2.2"/>
<circle cx="715.10" cy="220.35" r="2.2"/>
<circle cx="718.20" cy="230.05" r="2.2"/>
<circle cx="721.30" cy="239.89" r="2.2"/>
<circle cx="724.40" cy="249.73" r="2.2"/>
</g>
<polyline points="104.20,416.80 107.30,416.52 110.40,415.08 113.50,412.51 116.60,408.57 119.70,403.46 122.81,397.29 125.91,390.10 129.01,381.93 132.11,372.83 135.21,362.87 138.31,352.11 141.41,340.62 144.51,328.48 147.61,315.75 150.72,302.54 153.82,288.91 156.92,274.97 160.02,260.79 163.12,246.48 166.22,232.12 169.32,217.82 172.42,203.65 175.52,189.71 178.62,176.10 181.72,162.90 184.83,150.20 187.93,138.08 191.03,126.62 194.13,115.88 197.23,105.95 200.33,96.89 203.43,88.75 206.53,81.59 209.63,75.45 212.74,70.39 215.84,66.47 218.94,63.68 222.04,61.89 225.14,60.76 228.24,61.08 231.34,63.06 234.44,66.32 237.54,70.45 240.64,75.56 243.74,81.72 246.85,88.90 249.95,97.05 253.05,106.13 256.15,116.06 259.25,126.80 262.35,138.26 265.45,150.37 268.55,163.06 271.65,176.24 274.75,189.83 277.86,203.73 280.96,217.87 284.06,232.14 287.16,246.45 290.26,260.71 293.36,274.84 296.46,288.73 299.56,302.30 302.66,315.45 305.76,328.11 308.87,340.20 311.97,351.63 315.07,362.33 318.17,372.23 321.27,381.27 324.37,389.38 327.47,396.53 330.57,402.65 333.67,407.72 336.77,411.79 339.88,415.08 342.98,417.24 346.08,418.25 349.18,417.24 352.28,415.09 355.38,411.80 358.48,407.74 361.58,402.68 364.68,396.56 367.78,389.43 370.89,381.32 373.99,372.29 377.09,362.39 380.19,351.70 383.29,340.28 386.39,328.21 389.49,315.56 392.59,302.40 395.69,288.83 398.79,274.93 401.90,260.79 405.00,246.49 408.10,232.13 411.20,217.80 414.30,203.59 417.40,189.61 420.50,175.94 423.60,162.67 426.70,149.91 429.80,137.72 432.91,126.20 436.01,115.41 439.11,105.44 442.21,96.34 445.31,88.18 448.41,81.00 451.51,74.86 454.61,69.76 457.71,65.58 460.81,62.22 463.92,60.33 467.02,60.44 470.12,61.90 473.22,63.71 476.32,66.48 479.42,70.48 482.52,75.67 485.62,81.96 488.72,89.28 491.82,97.58 494.93,106.81 498.03,116.90 501.13,127.80 504.23,139.44 507.33,151.73 510.43,164.59 513.53,177.95 516.63,191.70 519.73,205.75 522.83,220.02 525.94,234.40 529.04,248.80 532.14,263.13 535.24,277.29 538.34,291.20 541.44,304.77 544.54,317.90 547.64,330.53 550.74,342.58 553.84,353.95 556.95,364.59 560.05,374.42 563.15,383.37 566.25,391.39 569.35,398.43 572.45,404.44 575.55,409.38 578.65,413.03 581.75,415.24 584.85,416.31 587.96,416.37 591.06,416.12 594.16,414.72 597.26,412.18 600.36,408.06 603.46,402.81 606.56,396.50 609.66,389.18 612.76,380.88 615.87,371.66 618.97,361.59 622.07,350.73 625.17,339.15 628.27,326.92 631.37,314.13 634.47,300.85 637.57,287.17 640.67,273.19 643.77,258.98 646.88,244.65 649.98,230.28 653.08,215.98 656.18,201.82 659.28,187.90 662.38,174.32 665.48,161.16 668.58,148.52 671.68,136.46 674.78,125.07 677.88,114.42 680.99,104.59 684.09,95.63 687.19,87.60 690.29,80.56 693.39,74.55 696.49,69.63 699.59,65.83 702.69,63.17 705.79,61.52 708.89,60.73 712.00,61.32 715.10,63.39 718.20,66.65 721.30,70.86 724.40,76.11" fill="none" stroke="#00ff00" stroke-width="1.75" stroke-linejoin="round"/>
<g fill="#00ff00">
<circle cx="104.20" cy="416.80" r="2.2"/>
<circle cx="107.30" cy="416.52" r="2.2"/>
<circle cx="110.40" cy="415.08" r="2.2"/>
<circle cx="113.50" cy="412.51" r="2.2"/>
<circle cx="116.60" cy="408.57" r="2.2"/>
<circle cx="119.70" cy="403.46" r="2.2"/>
<circle cx="122.81" cy="397.29" r="2.2"/>
<circle cx="125.91" cy="390.10" r="2.2"/>
<circle cx="129.01" cy="381.93" r="2.2"/>
<circle cx="132.11" cy="372.83" r="2.2"/>
<circle cx="135.21" cy="362.87" r="2.2"/>
<circle cx="138.31" cy="352.11" r="2.2"/>
<circle cx="141.41" cy="340.62" r="2.2"/>
<circle cx="144.51" cy="328.48" r="2.2"/>
<circle cx="147.61" cy="315.75" r="2.2"/>
<circle cx="150.72" cy="302.54" r="2.2"/>
<circle cx="153.82" cy="288.91" r="2.2"/>
<circle cx="156.92" cy="274.97" r="2.2"/>
<circle cx="160.02" cy="260.79" r="2.2"/>
<circle cx="163.12" cy="246.48" r="2.2"/>
<circle cx="166.22" cy="232.12" r="2.2"/>
<circle cx="169.32" cy="217.82" r="2.2"/>
<circle cx="172.42" cy="203.65" r="2.2"/>
<circle cx="175.52" cy="189.71" r="2.2"/>
<circle cx="178.62" cy="176.10" r="2.2"/>
<circle cx="181.72" cy="162.90" r="2.2"/>
<circle cx="184.83" cy="150.20" r="2.2"/>
<circle cx="187.93" cy="138.08" r="2.2"/>
<circle cx="191.03" cy="126.62" r="2.2"/>
<circle cx="194.13" cy="115.88" r="2.2"/>
<circle cx="197.23" cy="105.95" r="2.2"/>
<circle cx="200.33" cy="96.89" r="2.2"/>
<circle cx="203.43" cy="88.75" r="2.2"/>
<circle cx="206.53" cy="81.59" r="2.2"/>
<circle cx="209.63" cy="75.45" r="2.2"/>
<circle cx="212.74" cy="70.39" r="2.2"/>
<circle cx="215.84" cy="66.47" r="2.2"/>
<circle cx="218.94" cy="63.68" r="2.2"/>
<circle cx="222.04" cy="61.89" r="2.2"/>
<circle cx="225.14" cy="60.76" r="2.2"/>
<circle cx="228.24" cy="61.08" r="2.2"/>
<circle cx="231.34" cy="63.06" r="2.2"/>
<circle cx="234.44" cy="66.32" r="2.2"/>
<circle cx="237.54" cy="70.45" r="2.2"/>
<circle cx="240.64" cy="75.56" r="2.2"/>
<circle cx="243.74" cy="81.72" r="2.2"/>
<circle cx="246.85" cy="88.90" r="2.2"/>
<circle cx="249.95" cy="97.05" r="2.2"/>
<circle cx="253.05" cy="106.13" r="2.2"/>
<circle cx="256.15" cy="116.06" r="2.2"/>
<circle cx="259.25" cy="126.80" r="2.2"/>
<circle cx="262.35" cy="138.26" r="2.2"/>
<circle cx="265.45" cy="150.37" r="2.2"/>
<circle cx="268.55" cy="163.06" r="2.2"/>
<circle cx="271.65" cy="176.24" r="2.2"/>
<circle cx="274.75" cy="189.83" r="2.2"/>
<circle cx="277.86" cy="203.73" r="2.2"/>
<circle cx="280.96" cy="217.87" r="2.2"/>
<circle cx="284.06" cy="232.14" r="2.2"/>
<circle cx="287.16" cy="246.45" r="2.2"/>
<circle cx="290.26" cy="260.71" r="2.2"/>
<circle cx="293.36" cy="274.84" r="2.2"/>
<circle cx="296.46" cy="288.73" r="2.2"/>
<circle cx="299.56" cy="302.30" r="2.2"/>
<circle cx="302.66" cy="315.45" r="2.2"/>
<circle cx="305.76" cy="328.11" r="2.2"/>
<circle cx="308.87" cy="340.20" r="2.2"/>
<circle cx="311.97" cy="351.63" r="2.2"/>
<circle cx="315.07" cy="362.33" r="2.2"/>
<circle cx="318.17" cy="372.23" r="2.2"/>
<circle cx="321.27" cy="381.27" r="2.2"/>
<circle cx="324.37" cy="389.38" r="2.2"/>
<circle cx="327.47" cy="396.53" r="2.2"/>
<circle cx="330.57" cy="402.65" r="2.2"/>
<circle cx="333.67" cy="407.72" r="2.2"/>
<circle cx="336.77" cy="411.79" r="2.2"/>
<circle cx="339.88" cy="415.08" r="2.2"/>
<circle cx="342.98" cy="417.24" r="2.2"/>
<circle cx="346.08" cy="418.25" r="2.2"/>
<circle cx="349.18" cy="417.24" r="2.2"/>
<circle cx="352.28" cy="415.09" r="2.2"/>
<circle cx="355.38" cy="411.80" r="2.2"/>
<circle cx="358.48" cy="407.74" r="2.2"/>
<circle cx="361.58" cy="402.68" r="2.2"/>
<circle cx="364.68" cy="396.56" r="2.2"/>
<circle cx="367.78" cy="389.43" r="2.2"/>
<circle cx="370.89" cy="381.32" r="2.2"/>
<circle cx="373.99" cy="372.29" r="2.2"/>
<circle cx="377.09" cy="362.39" r="2.2"/>
<circle cx="380.19" cy="351.70" r="2.2"/>
<circle cx="383.29" cy="340.28" r="2.2"/>
<circle cx="386.39" cy="328.21" r="2.2"/>
<circle cx="389.49" cy="315.56" r="2.2"/>
<circle cx="392.59" cy="302.40" r="2.2"/>
<circle cx="395.69" cy="288.83" r="2.2"/>
<circle cx="398.79" cy="274.93" r="2.2"/>
<circle cx="401.90" cy="260.79" r="2.2"/>
<circle cx="405.00" cy="246.49" r="2.2"/>
<circle cx="408.10" cy="232.13" r="2.2"/>
<circle cx="411.20" cy="217.80" r="2.2"/>
<circle cx="414.30" cy="203.59" r="2.2"/>
<circle cx="417.40" cy="189.61" r="2.2"/>
<circle cx="420.50" cy="175.94" r="2.2"/>
<circle cx="423.60" cy="162.67" r="2.2"/>
<circle cx="426.70" cy="149.91" r="2.2"/>
<circle cx="429.80" cy="137.72" r="2.2"/>
<circle cx="432.91" cy="126.20" r="2.2"/>
<circle cx="436.01" cy="115.41" r="2.2"/>
<circle cx="439.11" cy="105.44" r="2.2"/>
<circle cx="442.21" cy="96.34" r="2.2"/>
<circle cx="445.31" cy="88.18" r="2.2"/>
<circle cx="448.41" cy="81.00" r="2.2"/>
<circle cx="451.51" cy="74.86" r="2.2"/>
<circle cx="454.61" cy="69.76" r="2.2"/>
<circle cx="457.71" cy="65.58" r="2.2"/>
<circle cx="460.81" cy="62.22" r="2.2"/>
<circle cx="463.92" cy="60.33" r="2.2"/>
<circle cx="467.02" cy="60.44" r="2.2"/>
<circle cx="470.12" cy="61.90" r="2.2"/>
<circle cx="473.22" cy="63.71" r="2.2"/>
<circle cx="476.32" cy="66.48" r="2.2"/>
<circle cx="479.42" cy="70.48" r="2.2"/>
<circle cx="482.52" cy="75.67" r="2.2"/>
<circle cx="485.62" cy="81.96" r="2.2"/>
<circle cx="488.72" cy="89.28" r="2.2"/>
<circle cx="491.82" cy="97.58" r="2.2"/>
<circle cx="494.93" cy="106.81" r="2.2"/>
<circle cx="498.03" cy="116.90" r="2.2"/>
<circle cx="501.13" cy="127.80" r="2.2"/>
<circle cx="504.23" cy="139.44" r="2.2"/>
<circle cx="507.33" cy="151.73" r="2.2"/>
<circle cx="510.43" cy="164.59" r="2.2"/>
<circle cx="513.53" cy="177.95" r="2.2"/>
<circle cx="516.63" cy="191.70" r="2.2"/>
<circle cx="519.73" cy="205.75" r="2.2"/>
<circle cx="522.83" cy="220.02" r="2.2"/>
<circle cx="525.94" cy="234.40" r="2.2"/>
<circle cx="529.04" cy="248.80" r="2.2"/>
<circle cx="532.14" cy="263.13" r="2.2"/>
<circle cx="535.24" cy="277.29" r="2.2"/>
<circle cx="538.34" cy="291.20" r="2.2"/>
<circle cx="541.44" cy="304.77" r="2.2"/>
<circle cx="544.54" cy="317.90" r="2.2"/>
<circle cx="547.64" cy="330.53" r="2.2"/>
<circle cx="550.74" cy="342.58" r="2.2"/>
<circle cx="553.84" cy="353.95" r="2.2"/>
<circle cx="556.95" cy="364.59" r="2.2"/>
<circle cx="560.05" cy="374.42" r="2.2"/>
<circle cx="563.15" cy="383.37" r="2.2"/>
<circle cx="566.25" cy="391.39" r="2.2"/>
<circle cx="569.35" cy="398.43" r="2.2"/>
<circle cx="572.45" cy="404.44" r="2.2"/>
<circle cx="575.55" cy="409.38" r="2.2"/>
<circle cx="578.65" cy="413.03" r="2.2"/>
<circle cx="581.75" cy="415.24" r="2.2"/>
<circle cx="584.85" cy="416.31" r="2.2"/>
<circle cx="587.96" cy="416.37" r="2.2"/>
<circle cx="591.06" cy="416.12" r="2.2"/>
<circle cx="594.16" cy="414.72" r="2.2"/>
<circle cx="597.26" cy="412.18" r="2.2"/>
<circle cx="600.36" cy="408.06" r="2.2"/>
<circle cx="603.46" cy="402.81" r="2.2"/>
<circle cx="606.56" cy="396.50" r="2.2"/>
<circle cx="609.66" cy="389.18" r="2.2"/>
<circle cx="612.76" cy="380.88" r="2.2"/>
<circle cx="615.87" cy="371.66" r="2.2"/>
<circle cx="618.97" cy="361.59" r="2.2"/>
<circle cx="622.07" cy="350.73" r="2.2"/>
<circle cx="625.17" cy="339.15" r="2.2"/>
<circle cx="628.27" cy="326.92" r="2.2"/>
<circle cx="631.37" cy="314.13" r="2.2"/>
<circle cx="634.47" cy="300.85" r="2.2"/>
<circle cx="637.57" cy="287.17" r="2.2"/>
<circle cx="640.67" cy="273.19" r="2.2"/>
<circle cx="643.77" cy="258.98" r="2.2"/>
<circle cx="646.88" cy="244.65" r="2.2"/>
<circle cx="649.98" cy="230.28" r="2.2"/>
<circle cx="653.08" cy="215.98" r="2.2"/>
<circle cx="656.18" cy="201.82" r="2.2"/>
<circle cx="659.28" cy="187.90" r="2.2"/>
<circle cx="662.38" cy="174.32" r="2.2"/>
<circle cx="665.48" cy="161.16" r="2.2"/>
<circle cx="668.58" cy="148.52" r="2.2"/>
<circle cx="671.68" cy="136.46" r="2.2"/>
<circle cx="674.78" cy="125.07" r="2.2"/>
<circle cx="677.88" cy="114.42" r="2.2"/>
<circle cx="680.99" cy="104.59" r="2.2"/>
<circle cx="684.09" cy="95.63" r="2.2"/>
<circle cx="687.19" cy="87.60" r="2.2"/>
<circle cx="690.29" cy="80.56" r="2.2"/>
<circle cx="693.39" cy="74.55" r="2.2"/>
<circle cx="696.49" cy="69.63" r="2.2"/>
<circle cx="699.59" cy="65.83" r="2.2"/>
<circle cx="702.69" cy="63.17" r="2.2"/>
<circle cx="705.79" cy="61.52" r="2.2"/>
<circle cx="708.89" cy="60.73" r="2.2"/>
<circle cx="712.00" cy="61.32" r="2.2"/>
<circle cx="715.10" cy="63.39" r="2.2"/>
<circle cx="718.20" cy="66.65" r="2.2"/>
<circle cx="721.30" cy="70.86" r="2.2"/>
<circle cx="724.40" cy="76.11" r="2.2"/>
</g>
</g>
<rect x="278.3" y="19.45" width="501.2" height="32.0" fill="#ffffff" stroke="#9b9b9b" stroke-width="1.05"/>
<line x1="281.0" y1="28.0" x2="316.8" y2="28.0" stroke="#0000ff" stroke-width="1.75"/>
<circle cx="298.9" cy="43.0" r="2.2" fill="#0000ff"/>
<text class="lg" x="319.4" y="32.1">Truncated SVD - 50 rad/s</text>
<text class="lg" x="319.4" y="46.6">Newmark <tspan font-style="italic" font-weight="bold" stroke="none">β</tspan> - 50 rad/s</text>
<line x1="443.5" y1="28.0" x2="479.1" y2="28.0" stroke="#ff0000" stroke-width="1.75"/>
<circle cx="461.3" cy="43.0" r="2.2" fill="#ff0000"/>
<text class="lg" x="481.8" y="32.1">Truncated SVD - 100 rad/s</text>
<text class="lg" x="481.8" y="46.6">Newmark <tspan font-style="italic" font-weight="bold" stroke="none">β</tspan> - 100 rad/s</text>
<line x1="611.7" y1="28.0" x2="647.0" y2="28.0" stroke="#00ff00" stroke-width="1.75"/>
<circle cx="629.4" cy="43.0" r="2.2" fill="#00ff00"/>
<text class="lg" x="649.3" y="32.1">Truncated SVD - 200 rad/s</text>
<text class="lg" x="649.3" y="46.6">Newmark <tspan font-style="italic" font-weight="bold" stroke="none">β</tspan> - 200 rad/s</text>
</svg></body></html>
